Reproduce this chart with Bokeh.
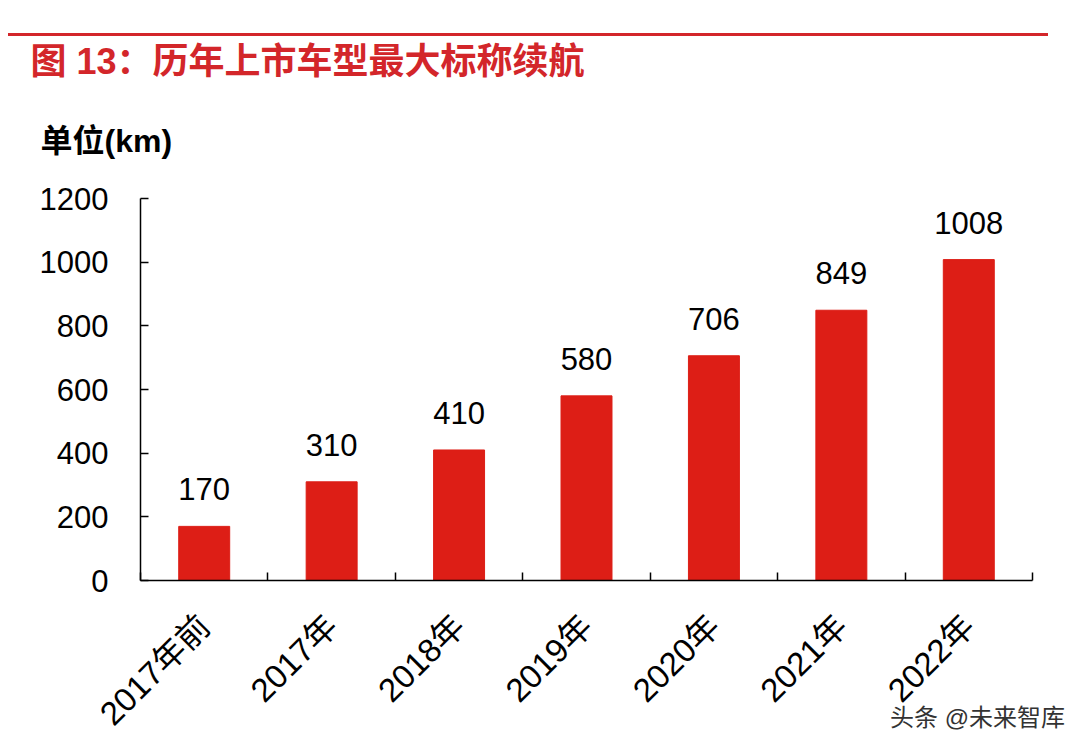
from bokeh.plotting import figure
from bokeh.models import (Range1d, LinearAxis, FixedTicker, ColumnDataSource,
                          LabelSet, Title, Div)
from bokeh.layouts import column
from bokeh.embed import file_html
from bokeh.resources import INLINE
from bokeh.core.properties import value
import math

categories = ["2017年前", "2017年", "2018年", "2019年", "2020年", "2021年", "2022年"]
values = [170, 310, 410, 580, 706, 849, 1008]
y_ticks = [0, 200, 400, 600, 800, 1000, 1200]
title_text = "图 13：历年上市车型最大标称续航"
unit_text = "单位(km)"
watermark = "头条 @未来智库"

FONT = "Liberation Sans, Noto Sans CJK SC"
RED = "#D3262A"
DIV_H = 36
W, H = 1072, 748 - DIV_H
FL, FT, FR, FB = 140, 198 - DIV_H, 1032, 589 - DIV_H

n = len(categories)
pos = list(range(n))
src = ColumnDataSource(dict(x=pos, val=values, txt=[str(v) for v in values]))

p = figure(width=W, height=H, output_backend="svg", toolbar_location=None,
           x_range=Range1d(-0.5, n - 0.5),
           y_range=Range1d(0, 1200),
           x_axis_location=None, y_axis_location=None,
           min_border_left=FL, min_border_right=W - FR,
           min_border_top=FT, min_border_bottom=H - FB)
p.outline_line_color = None
p.grid.grid_line_color = None
p.background_fill_color = "white"
p.border_fill_color = None

p.vbar(x="x", top="val", width=0.4, source=src, color="#DD1E16")

# y axis
ya = LinearAxis(ticker=FixedTicker(ticks=y_ticks))
ya.major_tick_in = 8
ya.major_tick_out = 0
ya.minor_tick_line_color = None
ya.axis_line_width = 1.5
ya.major_tick_line_width = 1.5
ya.axis_line_color = "black"
ya.major_label_text_font = FONT
ya.major_label_text_font_size = "31px"
ya.major_label_text_color = "black"
ya.major_label_standoff = 32
p.add_layout(ya, "left")

# x axis: labels at category centres, ticks at category boundaries (minor ticks)
xa = LinearAxis(ticker=FixedTicker(ticks=pos, minor_ticks=[i - 0.5 for i in range(n + 1)]),
                major_label_overrides={i: c for i, c in zip(pos, categories)})
xa.axis_line_width = 1.5
xa.axis_line_color = "black"
xa.major_tick_line_color = None
xa.major_tick_in = 0
xa.major_tick_out = 0
xa.minor_tick_in = 8
xa.minor_tick_out = 0
xa.minor_tick_line_width = 1.5
xa.minor_tick_line_color = "black"
xa.major_label_orientation = math.pi / 4
xa.major_label_text_font = FONT
xa.major_label_text_font_size = "33px"
xa.major_label_text_color = "black"
xa.major_label_standoff = 40
p.add_layout(xa, "below")

p.add_layout(LabelSet(x="x", y="val", text="txt", source=src, y_offset=26,
                      text_align="center", text_baseline="bottom",
                      text_font=value(FONT), text_font_size="31px", text_color="black"))

p.add_layout(Title(text=unit_text, align="left", offset=-100, standoff=79,
                   text_font=FONT, text_font_size="32px", text_font_style="bold",
                   text_color="black"), "above")
p.add_layout(Title(text=title_text, align="left", offset=-110, standoff=0,
                   text_font=FONT, text_font_size="36px", text_font_style="bold",
                   text_color=RED), "above")

line = Div(text='<div style="margin-top:33px;height:3px;width:1040px;background:%s"></div>' % RED,
           width=1050, height=DIV_H, margin=(0, 0, 0, 8))

wm = Div(text='<div style="font-family:\'Liberation Sans\',\'Noto Sans CJK SC\';font-size:24px;'
              'color:#333333;white-space:nowrap;line-height:28px">%s</div>' % watermark,
         width=180, height=28, margin=(-44, 0, 0, 890))

layout = column(line, p, wm)
open("out.html", "w").write(file_html(layout, INLINE))
